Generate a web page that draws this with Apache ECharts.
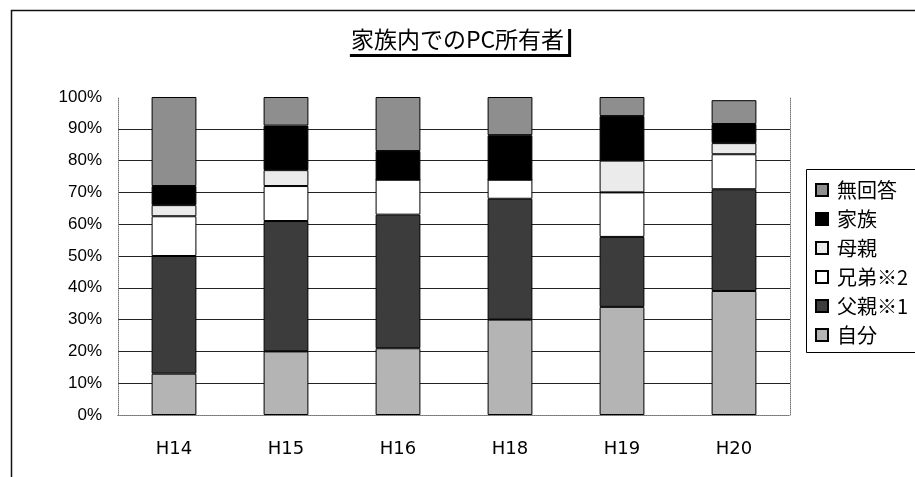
<!DOCTYPE html>
<html><head><meta charset="utf-8">
<script src="https://cdn.jsdelivr.net/npm/echarts@6/dist/echarts.min.js"></script>
<style>html,body{margin:0;padding:0;background:#fff;overflow:hidden}#c{width:915px;height:477px}</style>
</head><body><div id="c"></div>
<script>
const categories = ['H14','H15','H16','H18','H19','H20'];
const jibun   = [13, 20, 21, 30, 34, 39];
const chichi  = [37, 41, 42, 38, 22, 32];
const kyodai  = [12.5, 11, 11, 6, 14, 11];
const haha    = [3.5, 5, 0, 0, 10, 3.5];
const kazoku  = [6, 14, 9, 14, 14, 6];
const mukaito = [28, 9, 17, 12, 6, 7.5];
const seriesNames = ['自分','父親※1','兄弟※2','母親','家族','無回答'];
const legendOrder = ['無回答','家族','母親','兄弟※2','父親※1','自分'];
const seriesColors = ['#b4b4b4','#3c3c3c','#ffffff','#ebebeb','#000000','#8e8e8e'];
const seriesData = [jibun, chichi, kyodai, haha, kazoku, mukaito];

const chart = echarts.init(document.getElementById('c'));
const splitColors = ['rgba(0,0,0,0)','#222','#222','#222','#222','#222','#222','#222','#222','#222','rgba(0,0,0,0)'];
chart.setOption({
  animation: false,
  backgroundColor: '#fff',
  textStyle: {fontFamily: '"Noto Sans CJK JP", sans-serif'},
  graphic: [{
    type: 'polyline', silent: true,
    shape: {points: [[1000, 10.5], [11.5, 10.5], [11.5, 480]]},
    style: {fill: 'none', stroke: '#111', lineWidth: 1.5}
  }, {
    type: 'polyline', silent: true, z: 0,
    shape: {points: [[1000, 169.5], [806.5, 169.5], [806.5, 352.5], [1000, 352.5]]},
    style: {fill: 'none', stroke: '#000', lineWidth: 1}
  }],
  title: {
    text: '家族内でのPC所有者',
    left: 'center', top: 26,
    padding: [2, 4, 3, 4],
    backgroundColor: '#fff',
    shadowColor: '#000', shadowOffsetX: 3, shadowOffsetY: 3, shadowBlur: 0,
    textStyle: {fontSize: 23, fontWeight: 'normal', color: '#000', fontFamily: '"Noto Sans CJK JP", sans-serif'}
  },
  legend: {
    orient: 'vertical', left: 815, top: 180,
    data: legendOrder,
    icon: 'rect', itemWidth: 12, itemHeight: 12, itemGap: 9,
    padding: 0,
    textStyle: {fontSize: 20, color: '#000', padding: [0, 0, 0, 4], fontFamily: '"Noto Sans CJK JP", sans-serif'}
  },
  grid: {left: 118, top: 97, right: 125, bottom: 62},
  xAxis: [{
    type: 'category', data: categories,
    axisTick: {show: false},
    axisLine: {show: true, lineStyle: {color: '#777', type: 'dotted', width: 1}},
    axisLabel: {fontSize: 18, color: '#000', margin: 25, fontFamily: '"DejaVu Sans", sans-serif'}
  }, {
    type: 'category', data: categories, position: 'top',
    axisTick: {show: false}, axisLabel: {show: false},
    axisLine: {show: true, lineStyle: {color: '#777', type: 'dotted', width: 1}}
  }],
  yAxis: [{
    type: 'value', min: 0, max: 100, interval: 10,
    axisLine: {show: true, lineStyle: {color: '#777', type: 'dotted', width: 1}},
    axisTick: {show: false},
    axisLabel: {formatter: '{value}%', fontSize: 17, color: '#000', margin: 16, fontFamily: '"Liberation Sans", Arial, sans-serif'},
    splitLine: {show: true, lineStyle: {color: splitColors, width: 1}}
  }, {
    type: 'value', min: 0, max: 100, interval: 10, position: 'right',
    axisLine: {show: true, lineStyle: {color: '#777', type: 'dotted', width: 1}},
    axisTick: {show: false}, axisLabel: {show: false}, splitLine: {show: false}
  }],
  series: seriesNames.map((n, i) => ({
    name: n, type: 'bar', stack: 'total', barWidth: '40%',
    data: seriesData[i],
    itemStyle: {color: seriesColors[i], borderColor: '#000', borderWidth: 1},
    emphasis: {disabled: true}
  }))
});
</script></body></html>
